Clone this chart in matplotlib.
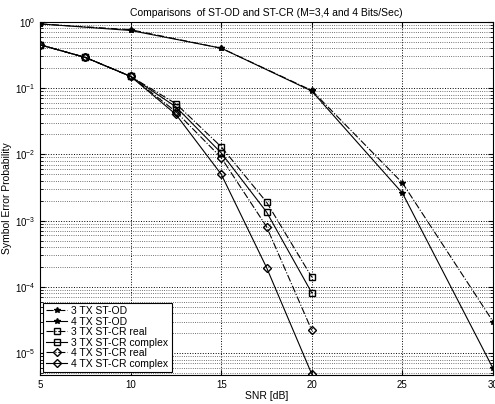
import matplotlib
matplotlib.use("agg")
import matplotlib.pyplot as plt
import numpy as np

plt.rcParams['font.family'] = ['Liberation Sans', 'DejaVu Sans']

# SNR points (dB)
snr_od = [5, 10, 15, 20, 25, 30]
snr_cr = [5, 7.5, 10, 12.5, 15, 17.5, 20]

# symbol error probabilities
ser_3tx_od = [0.93, 0.76, 0.40, 0.092, 3.7e-3, 3.0e-5]
ser_4tx_od = [0.93, 0.74, 0.40, 0.090, 2.6e-3, 5.9e-6]
ser_3tx_cr_real = [0.45, 0.29, 0.15, 0.058, 0.013, 1.9e-3, 1.4e-4]
ser_3tx_cr_cplx = [0.45, 0.29, 0.15, 0.052, 0.0105, 1.35e-3, 8.1e-5]
ser_4tx_cr_real = [0.45, 0.29, 0.15, 0.044, 0.0089, 8.1e-4, 2.2e-5]
ser_4tx_cr_cplx = [0.45, 0.29, 0.15, 0.040, 0.0050, 1.96e-4, 4.8e-6]

fig = plt.figure(figsize=(4.95, 4.04), dpi=100)
ax = fig.add_axes([0.081, 0.072, 0.915, 0.874])

k = 'black'
ax.semilogy(snr_od, ser_3tx_od, '-.', color=k, lw=0.8, marker='*', ms=4, label='3 TX ST-OD')
ax.semilogy(snr_od, ser_4tx_od, '-', color=k, lw=0.8, marker='*', ms=4, label='4 TX ST-OD')
ax.semilogy(snr_cr, ser_3tx_cr_real, '-.', color=k, lw=0.8, marker='s', ms=4, mfc='none', label='3 TX ST-CR real')
ax.semilogy(snr_cr, ser_3tx_cr_cplx, '-', color=k, lw=0.8, marker='s', ms=4, mfc='none', label='3 TX ST-CR complex')
ax.semilogy(snr_cr, ser_4tx_cr_real, '-.', color=k, lw=0.8, marker='D', ms=4, mfc='none', label='4 TX ST-CR real')
ax.semilogy(snr_cr, ser_4tx_cr_cplx, '-', color=k, lw=0.8, marker='D', ms=4, mfc='none', label='4 TX ST-CR complex')

ax.set_xlim(5, 30)
ax.set_ylim(4.7e-6, 1)
ax.set_xticks([5, 10, 15, 20, 25, 30])
ax.grid(True, which='major', ls=':', color=k, lw=0.7)
ax.grid(True, which='minor', axis='y', ls=':', color='#444444', lw=0.6)
ax.tick_params(which='both', direction='in', top=True, right=True, labelsize=7)

ax.set_title('Comparisons  of ST-OD and ST-CR (M=3,4 and 4 Bits/Sec)', fontsize=7.5, pad=4)
ax.set_xlabel('SNR [dB]', fontsize=7.5, labelpad=1)
ax.set_ylabel('Symbol Error Probability', fontsize=7.5, labelpad=2)

leg = ax.legend(loc='lower left', prop={'size': 7.5}, fancybox=False, framealpha=1,
                edgecolor=k, borderpad=0.3, labelspacing=0.05, handlelength=2.0,
                handletextpad=0.4, borderaxespad=0.3)
leg.get_frame().set_linewidth(0.8)

fig.savefig('out.png', dpi=100)
